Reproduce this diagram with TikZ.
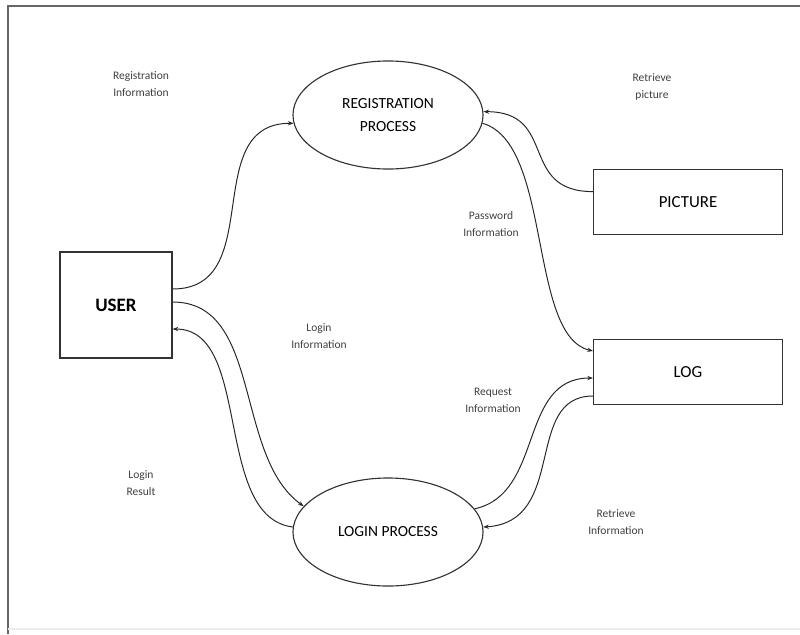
\documentclass[tikz,border=0pt]{standalone}
\usepackage{fontspec}
\setmainfont{Carlito}
\usetikzlibrary{shapes.geometric,arrows.meta}

\begin{document}
\begin{tikzpicture}[x=0.025cm, y=-0.025cm,
                    every node/.style = {align=center},
                    entity/.style = {shape=rectangle, draw=black!80, line width=0.8pt,
                        font=\fontsize{12}{14}\selectfont},
                    process/.style = {shape=ellipse, draw=black!80, line width=0.8pt,
                        minimum width=4.75cm, minimum height=2.7cm,
                        font=\fontsize{11}{16}\selectfont},
                    flowlabel/.style = {text=black!75, font=\fontsize{8.2}{12}\selectfont},
                    flow/.style = {draw=black!85, line width=0.7pt,
                        -{Stealth[length=4pt,width=3pt]}}]

    % frame
    \useasboundingbox (0,0) rectangle (800,634);
    \draw[black!60, line width=1.2pt] (800,6) -- (8,6) -- (8,634);
    \draw[black!8, line width=0.8pt] (8,629) -- (800,629);

    % nodes
    \node[entity, minimum width=2.8cm, minimum height=2.65cm,
          font=\fontsize{13.5}{16}\selectfont\bfseries] (user) at (116,305) {USER};
    \node[entity, minimum width=4.725cm, minimum height=1.625cm] (picture) at (688,202) {PICTURE};
    \node[entity, minimum width=4.725cm, minimum height=1.625cm] (log) at (688,372) {LOG};
    \node[process] (reg) at (388,115) {REGISTRATION\\PROCESS};
    \node[process] (login) at (388,532) {LOGIN PROCESS};

    % labels
    \node[flowlabel] (reginfo)   at (141,84)  {Registration\\Information};
    \node[flowlabel] (retpic)    at (652,87)  {Retrieve\\picture};
    \node[flowlabel] (pwdinfo)   at (491,224) {Password\\Information};
    \node[flowlabel] (logininfo) at (319,336) {Login\\Information};
    \node[flowlabel] (reqinfo)   at (493,400) {Request\\Information};
    \node[flowlabel] (loginres)  at (141,483) {Login\\Result};
    \node[flowlabel] (retinfo)   at (616,522) {Retrieve\\Information};

    % flows
    \draw[flow] ([yshift=0.4cm]user.east) .. controls +(95,0) and +(-95,0) .. (reg.185);
    \draw[flow] ([yshift=0.075cm]user.east) .. controls +(90,0) and +(-70,-50) .. (login.163);
    \draw[flow] (login.177) .. controls +(-80,-10) and +(80,0) .. ([yshift=-0.6cm]user.east);
    \draw[flow] ([yshift=0.26cm]picture.west) .. controls +(-75,0) and +(75,0) .. (reg.2);
    \draw[flow] (reg.-5) .. controls +(70,20) and +(-65,-15) .. ([yshift=0.525cm]log.west);
    \draw[flow] (login.15) .. controls +(70,-15) and +(-75,0) .. ([yshift=-0.15cm]log.west);
    \draw[flow] ([yshift=-0.6cm]log.west) .. controls +(-70,0) and +(85,-5) .. (login.3);

\end{tikzpicture}
\end{document}
